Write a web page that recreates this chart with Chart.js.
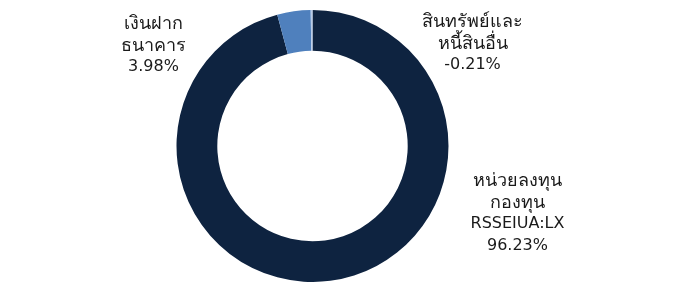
<!DOCTYPE html>
<html lang="th">
<head>
<meta charset="UTF-8">
<title>สัดส่วนการลงทุน</title>
<script src="https://cdn.jsdelivr.net/npm/chart.js@4.4.0/dist/chart.umd.min.js"></script>
<style>
  html, body { margin: 0; padding: 0; background: #fff; }
  #wrap { width: 686px; height: 282px; position: relative; }
</style>
</head>
<body>
<div id="wrap"><canvas id="chart"></canvas></div>
<script>
// data
const categories = [
  ['หน่วยลงทุน', 'กองทุน', 'RSSEIUA:LX'],
  ['เงินฝาก', 'ธนาคาร'],
  ['สินทรัพย์และ', 'หนี้สินอื่น']
];
const shares = [96.23, 3.98, -0.21];
const colours = ['#0e2340', '#4f80bd', '#b7cbe8'];

// where each label block sits, relative to the doughnut centre
const labelOffsets = [
  { dx: 205, dy: 67 },
  { dx: -159, dy: -101 },
  { dx: 160, dy: -103 }
];

const FONT = "Tahoma, 'DejaVu Sans', 'Noto Sans', sans-serif";
const isThai = s => /[\u0E00-\u0E7F]/.test(s);

const sliceLabels = {
  id: 'sliceLabels',
  afterDatasetsDraw(chart) {
    const ctx = chart.ctx;
    const arcs = chart.getDatasetMeta(0).data;
    ctx.save();
    ctx.fillStyle = '#1a1a1a';
    ctx.textAlign = 'center';
    ctx.textBaseline = 'middle';
    const lh = 22;
    arcs.forEach((arc, i) => {
      const lines = categories[i].concat([shares[i].toFixed(2) + '%']);
      const cx = arc.x + labelOffsets[i].dx;
      const cy = arc.y + labelOffsets[i].dy;
      const top = cy - (lines.length - 1) * lh / 2;
      lines.forEach((t, k) => {
        ctx.font = (isThai(t) ? '18px ' : '16px ') + FONT;
        ctx.fillText(t, cx, top + k * lh + (isThai(t) ? 1 : 0));
      });
    });
    ctx.restore();
  }
};

new Chart(document.getElementById('chart'), {
  type: 'doughnut',
  data: {
    labels: categories.map(c => c.join(' ')),
    datasets: [{
      data: shares,
      backgroundColor: colours,
      borderWidth: 0
    }]
  },
  options: {
    responsive: true,
    maintainAspectRatio: false,
    animation: false,
    cutout: '70%',
    layout: { padding: { left: 0, right: 61, top: 10, bottom: 0 } },
    plugins: {
      legend: { display: false },
      tooltip: { enabled: false }
    }
  },
  plugins: [sliceLabels]
});
</script>
</body>
</html>
